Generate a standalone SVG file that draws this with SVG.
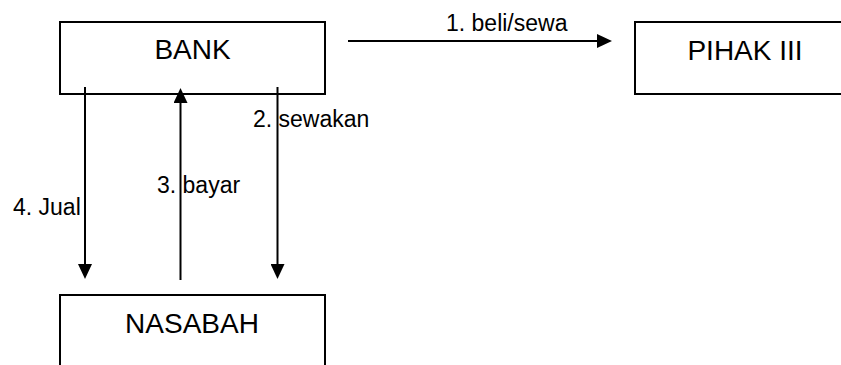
<svg xmlns="http://www.w3.org/2000/svg" width="841" height="365" viewBox="0 0 841 365">
  <style>
    .box { fill: #ffffff; stroke: #000000; stroke-width: 2; }
    .node-text { font-family: "Liberation Sans", Arial, sans-serif; font-size: 28px; fill: #000000; text-anchor: middle; }
    .label { font-family: "Liberation Sans", Arial, sans-serif; font-size: 23px; fill: #000000; }
    .conn { fill: none; stroke: #000000; stroke-width: 2; marker-end: url(#arrow); }
  </style>
  <defs>
    <marker id="arrow" viewBox="0 0 15 14" refX="5" refY="7" markerWidth="15" markerHeight="14" markerUnits="userSpaceOnUse" orient="auto">
      <path d="M0,0 L15,7 L0,14 Z" fill="#000000"/>
    </marker>
  </defs>
  <rect width="841" height="365" fill="#ffffff"/>

  <g id="bank">
    <rect class="box" x="60" y="22" width="265" height="72"/>
    <text class="node-text" x="192.5" y="59">BANK</text>
  </g>
  <g id="pihak-iii">
    <rect class="box" x="635" y="22" width="240" height="72"/>
    <text class="node-text" x="745" y="60">PIHAK III</text>
  </g>
  <g id="nasabah">
    <rect class="box" x="60" y="295" width="265" height="90"/>
    <text class="node-text" x="192" y="333">NASABAH</text>
  </g>

  <g id="connectors">
    <path class="conn" d="M348,41 L602,41"/>
    <path class="conn" d="M277.5,87 L277.5,269"/>
    <path class="conn" d="M180.5,280 L180.5,98"/>
    <path class="conn" d="M85,87 L85,269"/>
    <text class="label" x="446" y="31">1. beli/sewa</text>
    <text class="label" x="253" y="127">2. sewakan</text>
    <text class="label" x="157" y="193">3. bayar</text>
    <text class="label" x="13" y="215">4. Jual</text>
  </g>
</svg>
